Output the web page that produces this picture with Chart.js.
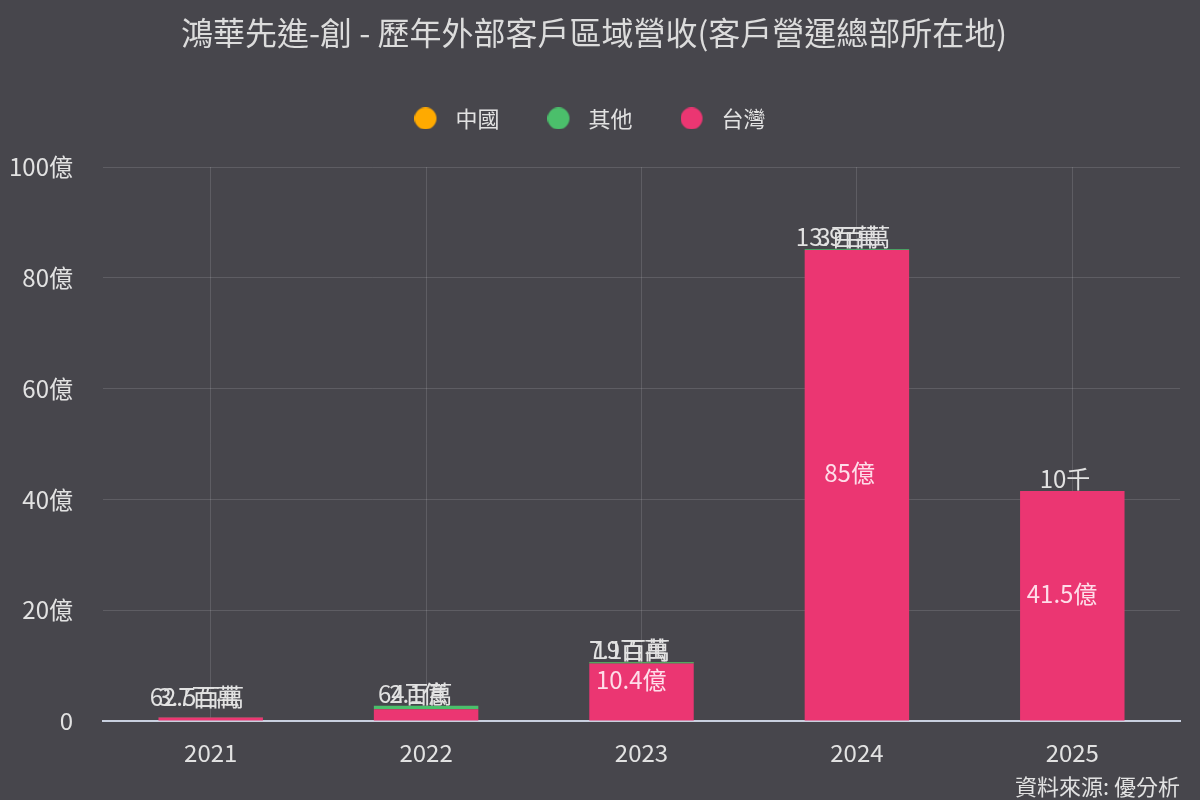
<!DOCTYPE html>
<html>
<head>
<meta charset="utf-8">
<script src="https://cdn.jsdelivr.net/npm/chart.js@4"></script>
<style>
html, body { margin: 0; padding: 0; background: #47464c; }
#wrap { width: 1200px; height: 800px; }
</style>
</head>
<body>
<div id="wrap"><canvas id="myChart"></canvas></div>
<script>
// 單位: 億
const years = ['2021', '2022', '2023', '2024', '2025'];
const taiwan = [0.625, 2.1, 10.4, 85, 41.5];
const others = [0.037, 0.64, 0.19, 0.139, 0.0001];
const china = [null, null, 0.071, 0.03, null];

const FONT = '"Noto Sans CJK TC", "Noto Sans", sans-serif';
const TEXT = '#e2e2e2';

function fmt(v) {
    if (v >= 1) return +v.toFixed(1) + '億';
    if (v >= 0.01) return +(v * 100).toFixed(1) + '百萬';
    return +(v * 1e5).toFixed(1) + '千';
}

// legend marker: circle sitting a bit left of the image centre
function dot(color) {
    const c = document.createElement('canvas');
    c.width = 38;
    c.height = 22;
    const g = c.getContext('2d');
    g.fillStyle = color;
    g.beginPath();
    g.arc(11, 11, 11, 0, Math.PI * 2);
    g.fill();
    return c;
}

// labels: big 台灣 values inside the bar, the rest above the stack
const valueLabels = {
    id: 'valueLabels',
    afterDatasetsDraw(chart) {
        const ctx = chart.ctx;
        const y = chart.scales.y;
        ctx.save();
        ctx.font = '24px ' + FONT;
        ctx.textBaseline = 'middle';
        ctx.textAlign = 'left';
        chart.data.datasets.forEach((ds, i) => {
            const meta = chart.getDatasetMeta(i);
            meta.data.forEach((bar, j) => {
                const v = ds.data[j];
                if (v == null) return;
                const text = fmt(v);
                const w = ctx.measureText(text).width;
                const x = bar.x - 0.645 * w;
                let ty;
                if (i === 0 && v >= 5) {
                    ty = (bar.y + bar.base) / 2 - 12;
                    ctx.fillStyle = 'rgba(255,236,243,0.92)';
                } else {
                    const total = chart.data.datasets.reduce((s, d) => s + (d.data[j] || 0), 0);
                    ty = Math.min(y.getPixelForValue(total), y.getPixelForValue(0) - 12) - 12;
                    ctx.fillStyle = TEXT;
                }
                ctx.fillText(text, x, ty);
            });
        });
        ctx.restore();
    }
};

const bgFill = {
    id: 'bgFill',
    beforeDraw(chart) {
        const ctx = chart.ctx;
        ctx.save();
        ctx.fillStyle = '#47464c';
        ctx.fillRect(0, 0, chart.width, chart.height);
        ctx.restore();
    }
};

// extra room under the legend
const legendMargin = {
    id: 'legendMargin',
    beforeInit(chart) {
        const fit = chart.legend.fit;
        chart.legend.fit = function () {
            fit.call(this);
            this.height = 115.6;
        };
    }
};

const data = {
    labels: years,
    datasets: [{
        label: '台灣',
        data: taiwan,
        backgroundColor: '#eb3672',
        pointStyle: dot('#eb3672')
    }, {
        label: '其他',
        data: others,
        backgroundColor: '#4bbf6b',
        pointStyle: dot('#4bbf6b')
    }, {
        label: '中國',
        data: china,
        backgroundColor: '#ffaa00',
        pointStyle: dot('#ffaa00')
    }]
};

const config = {
    type: 'bar',
    data,
    options: {
        responsive: true,
        maintainAspectRatio: false,
        animation: false,
        categoryPercentage: 1,
        barPercentage: 0.485,
        layout: {
            padding: { left: 8, right: 20, top: 0, bottom: 0 }
        },
        scales: {
            x: {
                stacked: true,
                afterFit: s => { s.height = 44.6; },
                grid: {
                    offset: false,
                    color: 'rgba(255,255,255,0.13)',
                    drawTicks: false
                },
                border: { color: '#c9d0df', width: 2 },
                ticks: {
                    color: TEXT,
                    padding: 17,
                    font: { family: FONT, size: 24 }
                }
            },
            y: {
                stacked: true,
                min: 0,
                max: 100,
                afterFit: s => { s.width = 95; },
                grid: {
                    color: 'rgba(255,255,255,0.13)',
                    drawTicks: false
                },
                border: { display: false },
                ticks: {
                    stepSize: 20,
                    color: TEXT,
                    padding: 30,
                    font: { family: FONT, size: 24 },
                    callback: v => v === 0 ? '0' : v + '億'
                }
            }
        },
        plugins: {
            title: {
                display: true,
                text: '鴻華先進-創 - 歷年外部客戶區域營收(客戶營運總部所在地)',
                color: '#dcdcdc',
                padding: { top: 14, bottom: -1 },
                font: { family: FONT, size: 32, weight: 'normal' }
            },
            subtitle: {
                display: true,
                text: '資料來源: 優分析',
                position: 'bottom',
                align: 'end',
                color: TEXT,
                padding: { top: 8, bottom: 0 },
                font: { family: FONT, size: 22 }
            },
            legend: {
                labels: {
                    usePointStyle: true,
                    pointStyleWidth: 22,
                    padding: 56,
                    color: TEXT,
                    font: { family: FONT, size: 22 },
                    sort: (a, b) => b.datasetIndex - a.datasetIndex
                }
            },
            tooltip: { enabled: false }
        }
    },
    plugins: [bgFill, legendMargin, valueLabels]
};

var myChart = new Chart(
    document.getElementById('myChart'),
    config
);
</script>
</body>
</html>
